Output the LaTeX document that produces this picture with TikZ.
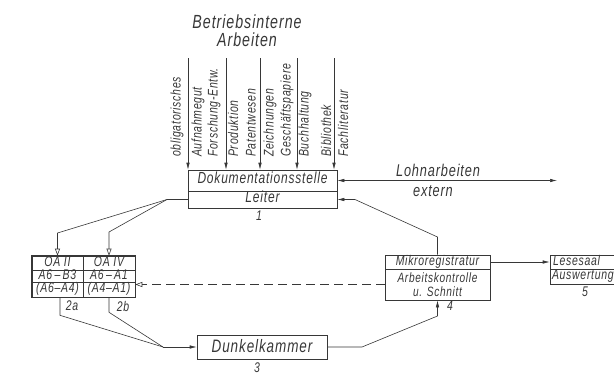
\documentclass[tikz,border=0pt]{standalone}
\usepackage{fontspec}
\newfontfamily\din[FakeStretch=0.75,LetterSpace=5]{Liberation Sans}
\newcommand\dinsize[1]{\din\itshape\fontsize{#1}{#1}\selectfont}
\usetikzlibrary{arrows.meta,positioning}
\definecolor{ink}{RGB}{55,55,55}

\begin{document}
\begin{tikzpicture}[x=1pt,y=-1pt,line width=0.6pt,draw=ink,
  every node/.style={text=ink},
  box/.style={draw=ink,inner sep=0pt,font=\dinsize{14},text height=8pt,text depth=1.5pt},
  title/.style={inner sep=0pt,font=\dinsize{19}},
  lab/.style={inner sep=0pt,rotate=90,anchor=west,font=\dinsize{14}},
  num/.style={inner sep=0pt,font=\dinsize{14}},
  arr/.style={-{Latex[length=7pt,width=3.5pt]}},
  openarr/.style={-{Triangle[open,length=7pt,width=5pt]}}]
  \useasboundingbox (0,0) rectangle (614,375);
  % title
  \node[title] (betr) at (247,22) {Betriebsinterne};
  \node[title] (arb) at (247,40) {Arbeiten};
  % main box
  \node[box,minimum width=149pt,minimum height=21pt,font=\dinsize{16}] (doku) at (262.5,180.5) {Dokumentationsstelle};
  \node[box,minimum width=149pt,minimum height=17pt,font=\dinsize{16}] (leiter) at (262.5,199.5) {Leiter};
  \node[num] (n1) at (259,216) {1};
  % incoming lines
  \foreach \x [count=\i] in {188,226,260,297,334} {
    \coordinate (top\i) at (\x,58);
    \draw[arr] (top\i) -- (top\i |- doku.north);
  }
  \foreach \x/\t [count=\i] in {177/obligatorisches,198/Aufnahmegut,214/Forschung-Entw.,233/Produktion,251/Patentwesen,
      270/Zeichnungen,287/Geschäftspapiere,305/Buchhaltung,326/Bibliothek,343/Fachliteratur}
    \node[lab] (lab\i) at (\x,157) {\t};
  % extern
  \coordinate (ext) at (557,180.5);
  \draw[{Latex[length=7pt,width=3.5pt]}-{Latex[length=7pt,width=3.5pt]}] (doku.east) -- (ext);
  \node[title,font=\dinsize{17}] (lohn) at (438,170) {Lohnarbeiten};
  \node[title,font=\dinsize{17}] (extern) at (433,191) {extern};
  % OA box
  \node[box,minimum width=51pt,minimum height=14pt] (oa2) at (57.5,263) {OA II};
  \node[box,minimum width=52pt,minimum height=14pt] (oa4) at (109,263) {OA IV};
  \node[box,minimum width=51pt,minimum height=12pt] (oa2b) at (57.5,276) {A6\,–\,B3};
  \node[box,minimum width=52pt,minimum height=12pt] (oa4b) at (109,276) {A6\,–\,A1};
  \node[box,minimum width=51pt,minimum height=15pt] (oa2c) at (57.5,289.5) {(A6–A4)};
  \node[box,minimum width=52pt,minimum height=15pt] (oa4c) at (109,289.5) {(A4–A1)};
  \draw[line width=0.9pt] (oa2.north west) rectangle (oa4c.south east);
  \node[num] (n2a) at (72,306) {2a};
  \node[num] (n2b) at (123,306) {2b};
  % Leiter to OA
  \coordinate (split) at (167,199.5);
  \draw (leiter.west) -- (split);
  \draw[openarr] (split) -- (57.5,233) -- (oa2.north);
  \draw[openarr] (split) -- (109,232) -- (oa4.north);
  % Dunkelkammer
  \node[box,minimum width=130pt,minimum height=24pt,font=\dinsize{18},text height=12pt,text depth=2pt] (dunkel) at (262,347) {Dunkelkammer};
  \node[num] (n3) at (257,368) {3};
  \coordinate (join) at (163,347);
  \draw ([xshift=2.5pt]oa2c.south) -- ++(0,18) -- (join);
  \draw (oa4c.south) -- ++(0,15) -- (join);
  \draw[arr] (join) -- (dunkel.west);
  % Mikroregistratur
  \node[box,minimum width=105pt,minimum height=14pt] (mikro1) at (437.5,262) {Mikroregistratur};
  \node[box,minimum width=105pt,minimum height=31pt,align=center,font=\dinsize{13.5},text height=,text depth=] (mikro2) at (437.5,284.5) {Arbeitskontrolle\\u. Schnitt};
  \node[num] (n4) at (450,306) {4};
  \draw[arr] (dunkel.east) -- (362,347) -- (437.5,316) -- (mikro2.south);
  \draw[arr] (mikro1.north) -- (437.5,237) -- (355,199.5) -- (leiter.east);
  \draw[openarr,dash pattern=on 9pt off 5pt] (mikro2.west) -- (mikro2.west -| oa4c.east);
  % Lesesaal
  \node[box,minimum width=70pt,minimum height=14pt,text width=64pt,align=left] (lese1) at (585,262) {Lesesaal};
  \node[box,minimum width=70pt,minimum height=15pt,text width=66pt,align=left] (lese2) at (585,276.5) {Auswertung};
  \node[num] (n5) at (585,292) {5};
  \draw[arr] (mikro1.east) -- (lese1.west);
\end{tikzpicture}
\end{document}
